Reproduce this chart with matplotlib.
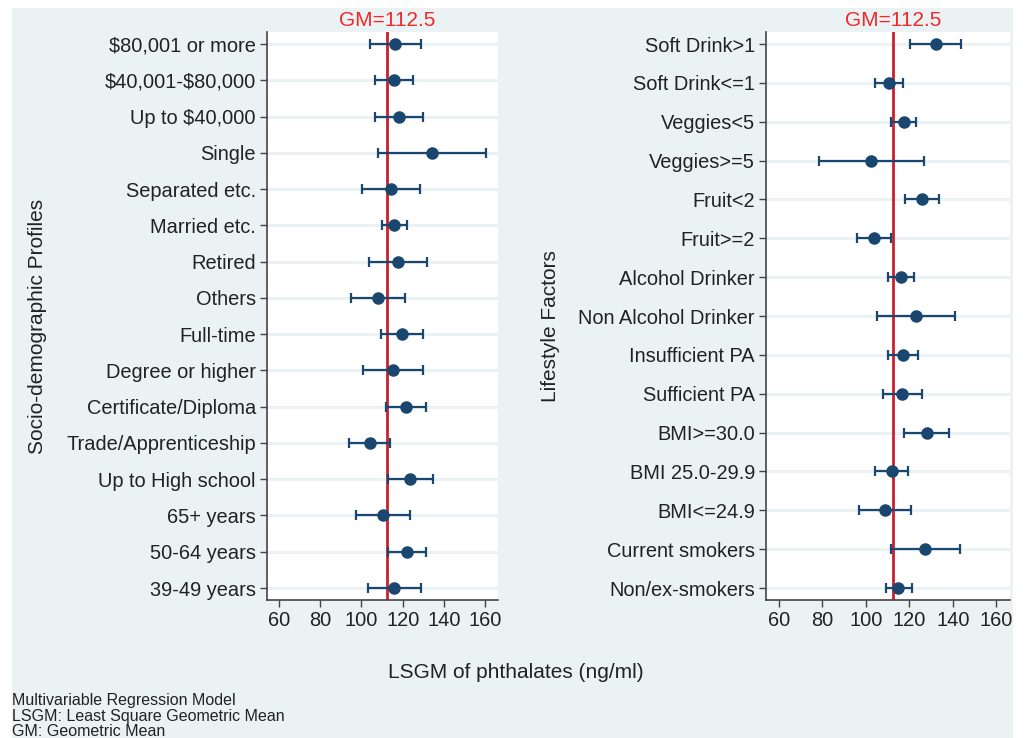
import matplotlib
matplotlib.use("Agg")
import matplotlib.pyplot as plt
from matplotlib.patches import Rectangle

plt.rcParams['font.family'] = ['Liberation Sans', 'DejaVu Sans']

GM = 112.5

socio_labels = ["$80,001 or more", "$40,001-$80,000", "Up to $40,000", "Single",
                "Separated etc.", "Married etc.", "Retired", "Others", "Full-time",
                "Degree or higher", "Certificate/Diploma", "Trade/Apprenticeship",
                "Up to High school", "65+ years", "50-64 years", "39-49 years"]
socio_est = [116.2, 115.8, 118.3, 134.0, 114.1, 116.0, 117.8, 107.9, 119.6,
             115.3, 121.5, 103.9, 123.6, 110.3, 122.0, 116.0]
socio_lo = [104.0, 106.4, 106.4, 108.1, 100.3, 109.9, 103.5, 94.8, 109.5,
            100.6, 111.8, 94.0, 112.8, 97.4, 112.8, 103.2]
socio_hi = [128.8, 125.2, 129.9, 160.2, 128.2, 122.1, 131.7, 121.0, 129.6,
            129.8, 131.4, 113.6, 134.6, 123.6, 131.4, 129.1]

life_labels = ["Soft Drink>1", "Soft Drink<=1", "Veggies<5", "Veggies>=5", "Fruit<2",
               "Fruit>=2", "Alcohol Drinker", "Non Alcohol Drinker", "Insufficient PA",
               "Sufficient PA", "BMI>=30.0", "BMI 25.0-29.9", "BMI<=24.9",
               "Current smokers", "Non/ex-smokers"]
life_est = [132.1, 110.7, 117.4, 102.5, 125.7, 103.7, 116.2, 122.9, 117.0,
            116.8, 128.0, 111.9, 108.7, 127.3, 115.0]
life_lo = [120.5, 104.3, 111.8, 78.5, 118.0, 95.9, 110.4, 105.2, 110.1,
           108.0, 117.7, 104.3, 97.0, 111.8, 109.2]
life_hi = [143.7, 117.0, 123.1, 126.6, 133.5, 111.6, 122.2, 140.8, 124.0,
           125.7, 138.1, 119.6, 120.8, 143.2, 121.1]

xticks = [60, 80, 100, 120, 140, 160]

W, H = 1028, 738
fig = plt.figure(figsize=(W / 100, H / 100), dpi=100, facecolor='white')
bg = '#eaf2f3'
fig.patches.append(Rectangle((12 / W, 0), 1001 / W, (H - 8) / H,
                             transform=fig.transFigure, facecolor=bg,
                             edgecolor='none', zorder=-10))

navy = '#1a476f'
redline = '#c8202e'
redtext = '#f0282a'
fs = 15
tfs = 14.4


def panel(rect, labels, est, lo, hi, ylabel, ylabel_x):
    ax = fig.add_axes(rect)
    ax.set_facecolor('white')
    n = len(labels)
    ys = list(range(n))
    for y in ys:
        ax.axhline(y, color=bg, lw=2.2, zorder=1)
    ax.axvline(GM, color=redline, lw=2.0, zorder=2)
    err = [[e - l for e, l in zip(est, lo)], [h - e for e, h in zip(est, hi)]]
    ax.errorbar(est, ys, xerr=err, fmt='o', color=navy, ms=8, lw=1.6,
                capsize=3.5, capthick=1.6, zorder=3)
    margin = 12 / (rect[3] * H) * (n - 1) / (1 - 24 / (rect[3] * H))
    ax.set_ylim(n - 1 + margin, -margin)
    ax.set_xlim(54.2, 166.2)
    ax.set_yticks(ys)
    ax.set_yticklabels([l.replace('$', r'\$') for l in labels], fontsize=tfs,
                       color='#222222')
    ax.set_xticks(xticks)
    ax.set_xticklabels([str(t) for t in xticks], fontsize=tfs, color='#222222')
    for s in ['top', 'right']:
        ax.spines[s].set_visible(False)
    for s in ['left', 'bottom']:
        ax.spines[s].set_color('#444444')
        ax.spines[s].set_linewidth(1.2)
    ax.tick_params(axis='both', length=5, width=1.0, color='#444444', pad=3)
    ax.text(GM, 1.004, f"GM={GM}", transform=ax.get_xaxis_transform(),
            ha='center', va='bottom', color=redtext, fontsize=fs)
    fig.text(ylabel_x / W, 1 - 326 / H, ylabel, rotation=90, ha='center',
             va='center', fontsize=fs, color='#222222')
    return ax


top, bottom = 32, 600
h = (bottom - top) / H
y0 = 1 - bottom / H
panel([267 / W, y0, (498 - 267) / W, h], socio_labels, socio_est, socio_lo, socio_hi,
      "Socio-demographic Profiles", 38)
panel([766 / W, y0, (1010 - 766) / W, h], life_labels, life_est, life_lo, life_hi,
      "Lifestyle Factors", 550)

fig.text(516 / W, 1 - 672 / H, "LSGM of phthalates (ng/ml)", ha='center',
         va='center', fontsize=fs, color='#222222')
notes = ["Multivariable Regression Model", "LSGM: Least Square Geometric Mean",
         "GM: Geometric Mean"]
for i, t in enumerate(notes):
    fig.text(12 / W, 1 - (700 + 16 * i) / H, t, ha='left', va='center',
             fontsize=11.5, color='#222222')

fig.savefig("out.png", dpi=100, facecolor=fig.get_facecolor())
